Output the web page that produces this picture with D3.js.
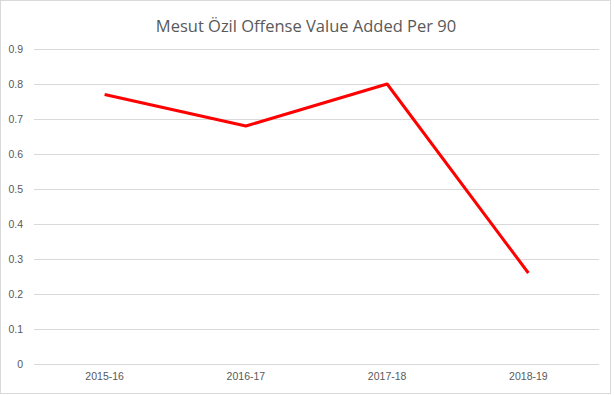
<!DOCTYPE html>
<html>
<head>
<meta charset="utf-8">
<script src="https://cdn.jsdelivr.net/npm/d3@7"></script>
<style>
  body { margin: 0; background: #fff; }
</style>
</head>
<body>
<div id="chart"></div>
<script>
const seasons = ["2015-16", "2016-17", "2017-18", "2018-19"];
const valueAdded = [0.77, 0.68, 0.80, 0.26];
const yTicks = [0, 0.1, 0.2, 0.3, 0.4, 0.5, 0.6, 0.7, 0.8, 0.9];

const width = 614, height = 395;
const margin = { top: 49, right: 15, bottom: 31, left: 34 };

const svg = d3.select("#chart").append("svg")
    .attr("width", width)
    .attr("height", height)
    .style("font-family", "'Open Sans', sans-serif");

// outer frame like the spreadsheet chart area
svg.append("rect")
    .attr("x", 0.5).attr("y", 0.5)
    .attr("width", 610).attr("height", 393)
    .attr("fill", "#fff")
    .attr("stroke", "#d9d9d9");

const x = d3.scaleBand()
    .domain(seasons)
    .range([margin.left, width - margin.right]);

const y = d3.scaleLinear()
    .domain([0, 0.9])
    .range([height - margin.bottom, margin.top]);

// gridlines + y labels
const yAxis = svg.append("g")
    .attr("transform", `translate(${margin.left},0)`)
    .call(d3.axisLeft(y)
        .tickValues(yTicks)
        .tickSize(-(width - margin.right - margin.left))
        .tickPadding(11)
        .tickFormat(d => d === 0 ? "0" : d3.format(".1f")(d)));
yAxis.select(".domain").remove();
yAxis.selectAll(".tick line").attr("stroke", "#d9d9d9");
yAxis.selectAll(".tick text")
    .attr("fill", "#595959")
    .style("font-size", "10.5px");

// x labels
const xAxis = svg.append("g")
    .attr("transform", `translate(0,${height - margin.bottom})`)
    .call(d3.axisBottom(x).tickSize(0).tickPadding(9));
xAxis.select(".domain").remove();
xAxis.selectAll(".tick text")
    .attr("fill", "#595959")
    .style("font-size", "10.5px");

const line = d3.line()
    .x((d, i) => x(seasons[i]) + x.bandwidth() / 2)
    .y(d => y(d));

svg.append("path")
    .datum(valueAdded)
    .attr("fill", "none")
    .attr("stroke", "#ff0000")
    .attr("stroke-width", 3)
    .attr("stroke-linejoin", "round")
    .attr("d", line);

svg.append("text")
    .attr("x", 306)
    .attr("y", 32)
    .attr("text-anchor", "middle")
    .attr("fill", "#595959")
    .style("font-size", "16.5px")
    .text("Mesut Özil Offense Value Added Per 90");
</script>
</body>
</html>
